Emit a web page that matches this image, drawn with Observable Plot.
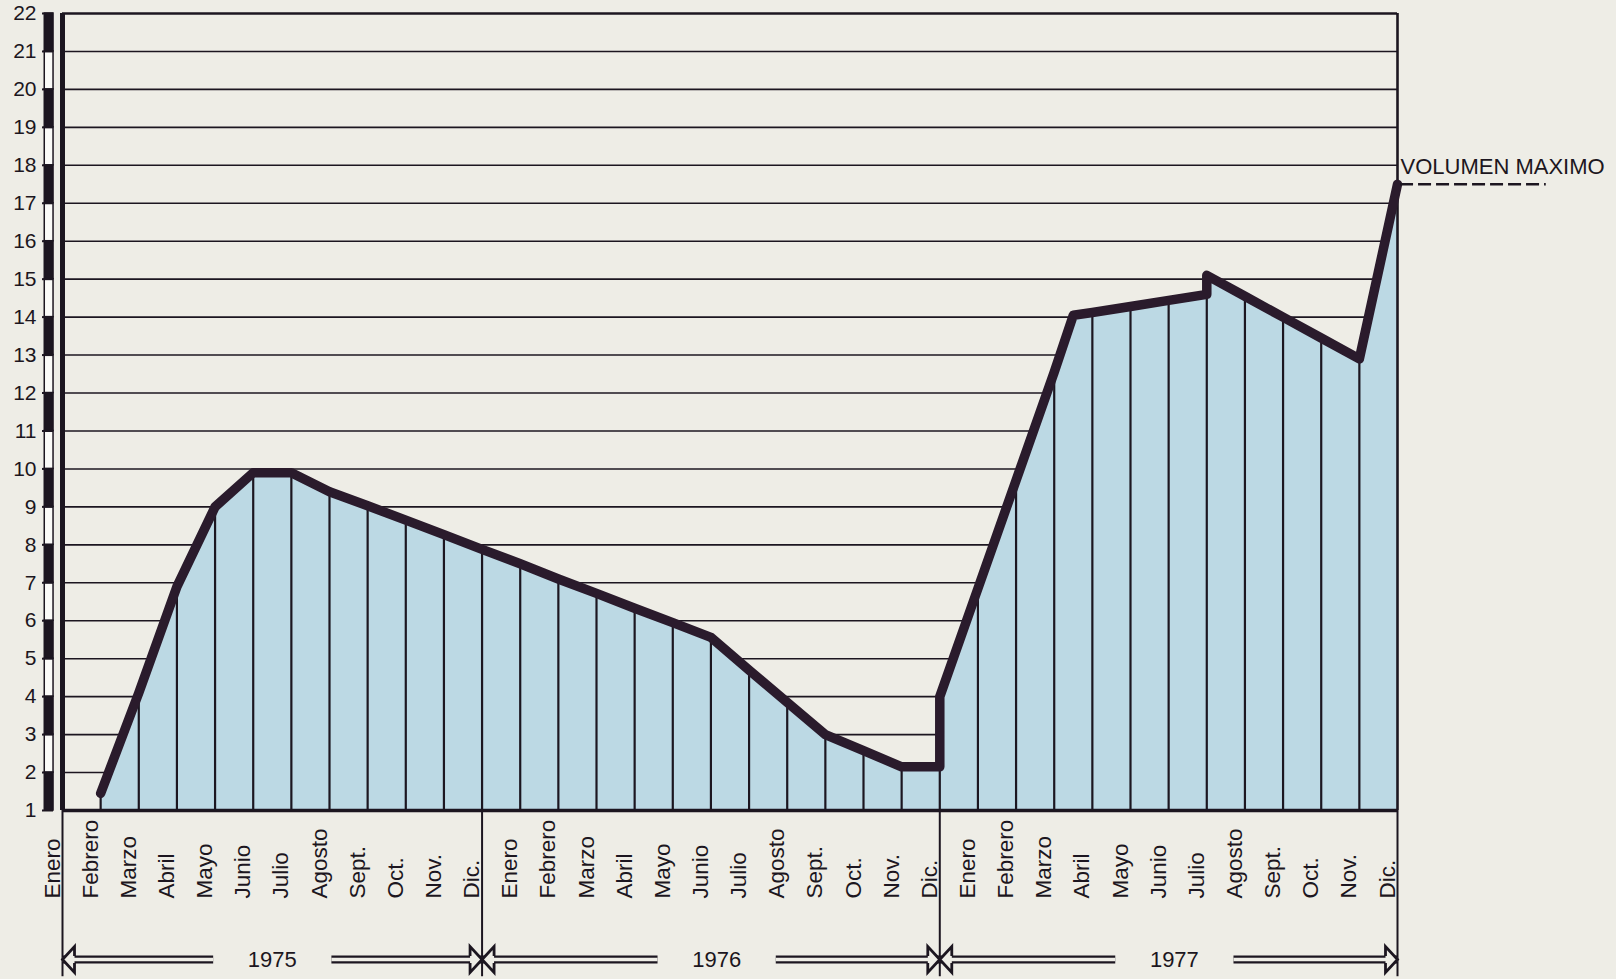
<!DOCTYPE html>
<html>
<head>
<meta charset="utf-8">
<script src="https://cdn.jsdelivr.net/npm/d3@7"></script>
<script src="https://cdn.jsdelivr.net/npm/@observablehq/plot@0.6"></script>
<style>
  html, body { margin: 0; padding: 0; background: #eeede6; }
  #chart { width: 1616px; height: 979px; overflow: hidden; }
  #chart svg { overflow: visible; }
</style>
</head>
<body>
<div id="chart"></div>
<script>
// ---------- data ----------
const monthNames = ["Enero", "Febrero", "Marzo", "Abril", "Mayo", "Junio", "Julio", "Agosto", "Sept.", "Oct.", "Nov.", "Dic."];
const years = [1975, 1976, 1977];
const yearStartMonth = [0, 11, 23];   // month line where each year's arrow starts (0 = Enero 1975)
const yearEndMonth = [11, 23, 35];    // month line where each year's arrow ends
// vertices of the volume line, month index (0 = Enero 1975) and volume
const vertexMonth = [1, 2, 3, 4, 5, 6, 7, 8, 9, 10, 11, 12, 13, 14, 15, 16, 17, 18, 19, 20, 21, 22, 23, 23, 24, 25, 26, 26.5, 27, 28, 29, 30, 30, 31, 32, 33, 34, 35];
const vertexVolume = [1.45, 4.1, 6.9, 9.0, 9.9, 9.9, 9.4, 9.03, 8.65, 8.27, 7.88, 7.5, 7.1, 6.72, 6.33, 5.95, 5.56, 4.7, 3.85, 3.0, 2.58, 2.15, 2.15, 4.0, 6.85, 9.7, 12.55, 14.05, 14.12, 14.28, 14.44, 14.6, 15.1, 14.55, 14.0, 13.45, 12.9, 17.5];
const yTicks = [1, 2, 3, 4, 5, 6, 7, 8, 9, 10, 11, 12, 13, 14, 15, 16, 17, 18, 19, 20, 21, 22];
const maxVolume = 17.5;
const maxLabel = "VOLUMEN MAXIMO";

// ---------- styles ----------
const ink = "#1c1620";
const lineInk = "#2a1b2c";
const paper = "#eeede6";
const blue = "#bcd9e4";
const font = "'Liberation Sans', Arial, Helvetica, sans-serif";

// ---------- derived tables ----------
const vertices = vertexMonth.map((m, i) => ({m, v: vertexVolume[i]}));
const months = years.flatMap((yr, yi) => monthNames.map((name, k) => ({m: yi * 12 + k, name})));
const topByMonth = d3.rollups(vertices.filter(d => Number.isInteger(d.m)), g => d3.max(g, d => d.v), d => d.m)
  .map(([m, v]) => ({m, v}))
  .filter(d => d.m > 0 && d.m < 35);
const yMin = yTicks[0], yMax = yTicks[yTicks.length - 1];
const lastMonth = months.length - 1;
const bands = yTicks.slice(0, -1).map(k => ({lo: k, hi: k + 1, dark: k % 2 === 1}));
const yearTable = years.map((yr, i) => ({
  label: String(yr), start: yearStartMonth[i], end: yearEndMonth[i],
  mid: (yearStartMonth[i] + yearEndMonth[i]) / 2 + (i === 0 ? 0 : 0.15)
}));
const gap = 1.55; // months of blank around the year label
const shafts = yearTable.flatMap(d => [
  {x1: d.start, x2: d.mid - gap}, {x1: d.mid + gap, x2: d.end}
]);
const heads = yearTable.flatMap(d => [{x: d.start, r: 0}, {x: d.end, r: 180}]);
const floorY = -3.38; // bottom of the separators below the axis
const arrowDy = 149, labelDy = 88;

const headSymbol = {
  draw(ctx) {
    ctx.moveTo(12, -3.5);
    ctx.lineTo(12, -13);
    ctx.lineTo(0, 0);
    ctx.lineTo(12, 13);
    ctx.lineTo(12, 3.5);
  }
};

const chart = Plot.plot({
  width: 1616,
  height: 979,
  marginLeft: 62,
  marginRight: 219,
  marginTop: 13,
  marginBottom: 169,
  x: {domain: [0, lastMonth], axis: null},
  y: {domain: [yMin, yMax], axis: null, label: null},
  style: {background: "transparent", fontFamily: font, color: ink, overflow: "visible"},
  marks: [
    // horizontal grid
    Plot.ruleY(yTicks.slice(1, -1), {x1: 0, x2: lastMonth, stroke: ink, strokeWidth: 1.6}),
    // blue area
    Plot.areaY(vertices, {x: "m", y1: yMin, y2: "v", fill: blue, curve: "linear"}),
    // month verticals inside the area
    Plot.ruleX(topByMonth, {x: "m", y1: yMin, y2: "v", stroke: ink, strokeWidth: 2.2}),
    // frame
    Plot.ruleY([yMax], {x1: 0, x2: lastMonth, stroke: ink, strokeWidth: 2.6}),
    Plot.ruleX([lastMonth], {y1: yMin, y2: yMax, stroke: ink, strokeWidth: 2.6}),
    Plot.ruleX([0], {y1: yMin, y2: yMax, stroke: ink, strokeWidth: 5}),
    Plot.ruleX([0, ...yearEndMonth], {y1: floorY, y2: yMin, stroke: ink, strokeWidth: 2}),
    Plot.ruleY([yMin], {x1: 0, x2: lastMonth, stroke: ink, strokeWidth: 3.6}),
    // volume line
    Plot.line(vertices, {x: "m", y: "v", stroke: lineInk, strokeWidth: 9.5, strokeLinejoin: "round", strokeLinecap: "round", curve: "linear"}),
    // scale bar on the left
    Plot.rect(bands, {x1: -0.465, x2: -0.235, y1: "lo", y2: "hi", fill: d => d.dark ? ink : "#fbfbf8", stroke: ink, strokeWidth: 1.5}),
    Plot.axisY(yTicks, {tickSize: 11, tickPadding: 6, dx: -9, fontSize: 21, stroke: ink, fill: ink, strokeWidth: 2, label: null}),
    // month labels
    Plot.text(months, {x: "m", y: yMin, text: "name", rotate: -90, textAnchor: "start", lineAnchor: "bottom", dx: -3, dy: labelDy, fontSize: 22.5, fill: ink}),
    // year arrows
    Plot.link(shafts, {x1: "x1", x2: "x2", y1: yMin, y2: yMin, dy: arrowDy, stroke: ink, strokeWidth: 8}),
    Plot.link(shafts, {x1: "x1", x2: "x2", y1: yMin, y2: yMin, dy: arrowDy, stroke: paper, strokeWidth: 3.4}),
    Plot.dot(heads, {x: "x", y: yMin, dy: arrowDy, rotate: "r", symbol: headSymbol, r: 6, fill: paper, stroke: ink, strokeWidth: 2.8}),
    Plot.text(yearTable, {x: "mid", y: yMin, dy: arrowDy, text: "label", fontSize: 22, fill: ink}),
    // maximum volume marker
    Plot.ruleY([maxVolume], {x1: lastMonth + 0.08, x2: lastMonth + 3.9, stroke: ink, strokeWidth: 2.4, strokeDasharray: "13,5"}),
    Plot.text([maxLabel], {x: lastMonth, y: maxVolume, text: d => d, dx: 3, dy: -10, textAnchor: "start", lineAnchor: "bottom", fontSize: 22, fill: ink})
  ]
});
document.getElementById("chart").append(chart);
</script>
</body>
</html>
